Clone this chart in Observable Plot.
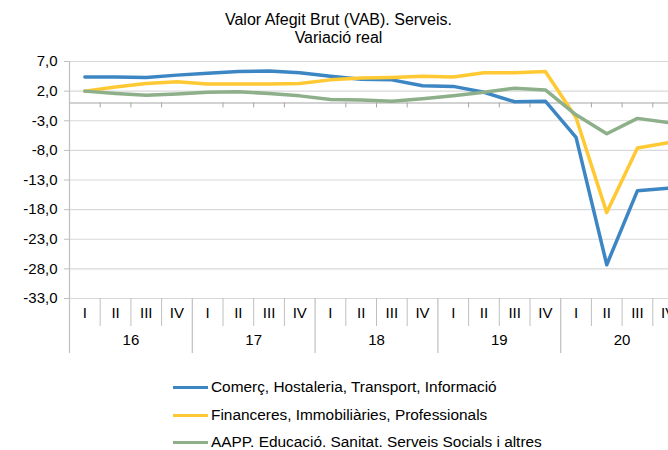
<!DOCTYPE html>
<html><head><meta charset="utf-8">
<script src="https://cdn.jsdelivr.net/npm/d3@7"></script>
<script src="https://cdn.jsdelivr.net/npm/@observablehq/plot@0.6"></script>
<style>
body{margin:0;background:#fff;font-family:"Liberation Sans",Arial,sans-serif;}
#wrap{position:relative;width:668px;height:450px;overflow:hidden;background:#fff}
#title{position:absolute;left:0;top:11px;width:677px;text-align:center;font-size:16px;line-height:18px;color:#000}
#chart{position:absolute;left:0;top:50px}
.leg{position:absolute;left:173px;height:20px;display:flex;align-items:center;font-size:15.4px;color:#000;white-space:nowrap}
.sw{display:inline-block;width:35px;height:3px;margin-right:3px}
</style></head>
<body><div id="wrap">
<div id="title">Valor Afegit Brut (VAB). Serveis.<br>Variació real</div>
<div id="chart"></div>
<div id="legend"></div>
</div>
<script>
const quarters = ["I","II","III","IV","I","II","III","IV","I","II","III","IV","I","II","III","IV","I","II","III","IV"];
const years = ["16","17","18","19","20"];
const seriesNames = [
  "Comerç, Hostaleria, Transport, Informació",
  "Financeres, Immobiliàries, Professionals",
  "AAPP. Educació. Sanitat. Serveis Socials i altres"
];
const comerc     = [4.4,4.4,4.3,4.7,5.0,5.3,5.4,5.1,4.5,4.0,3.9,2.9,2.8,1.8,0.2,0.3,-5.8,-27.3,-14.8,-14.4];
const financeres = [2.0,2.7,3.3,3.6,3.2,3.2,3.2,3.3,3.9,4.2,4.3,4.5,4.4,5.1,5.1,5.3,-2.5,-18.5,-7.6,-6.7];
const aapp       = [2.0,1.6,1.3,1.5,1.8,1.9,1.6,1.2,0.6,0.5,0.3,0.7,1.2,1.8,2.5,2.2,-2.0,-5.2,-2.6,-3.3];
const yTicks = [-33,-28,-23,-18,-13,-8,-3,2,7];
const colors = ["#3D86C4","#FFC934","#8DAF8A"];

const seriesValues = [comerc, financeres, aapp];
const data = [];
seriesValues.forEach((vals, s) => vals.forEach((v, i) => data.push({i, v, name: seriesNames[s]})));
const idx = quarters.map((q, i) => i);
const bounds = d3.range(quarters.length + 1).map(i => i - 0.5);
const qBounds = bounds.filter((b, k) => k % 4 !== 0);
const yBounds = bounds.filter((b, k) => k % 4 === 0);
const yearCenters = years.map((y, k) => k * 4 + 1.5);
const fmt = d => d.toFixed(1).replace(".", ",");

const chart = Plot.plot({
  width: 668, height: 310,
  marginTop: 11, marginBottom: 62, marginLeft: 69, marginRight: 0,
  style: {fontFamily: "'Liberation Sans', Arial, sans-serif", fontSize: "15px", color: "#000", background: "transparent"},
  x: {type: "linear", domain: [-0.5, 19.5], range: [69, 683], axis: null},
  y: {domain: [-33, 7], axis: null},
  color: {domain: seriesNames, range: colors},
  marks: [
    Plot.ruleY(yTicks, {stroke: "#D9D9D9", strokeWidth: 1.2}),
    Plot.ruleY([0], {stroke: "#A6A6A6", strokeWidth: 1.2}),
    Plot.ruleX(qBounds, {x: d => d, y1: () => 0, y2: () => 0, insetBottom: -5, stroke: "#A6A6A6"}),
    Plot.ruleX([-0.5], {x: d => d, y1: () => 7, y2: () => -33, stroke: "#BFBFBF", strokeWidth: 1.2}),
    Plot.ruleX(qBounds, {x: d => d, y1: () => -33, y2: () => -33, insetBottom: -28, stroke: "#BFBFBF"}),
    Plot.ruleX(yBounds, {x: d => d, y1: () => -33, y2: () => -33, insetBottom: -55, stroke: "#BFBFBF", strokeWidth: 1.2}),
    Plot.axisY(yTicks, {tickFormat: fmt, tickSize: 5, tickPadding: 7, stroke: "#BFBFBF", label: null, fontSize: 15}),
    Plot.text(idx, {x: d => d, text: d => quarters[d], frameAnchor: "bottom", dy: 19, fontSize: 15}),
    Plot.text(yearCenters, {x: d => d, text: (d, k) => years[k], frameAnchor: "bottom", dy: 46, fontSize: 15}),
    Plot.line(data, {x: "i", y: "v", z: "name", stroke: "name", strokeWidth: 3.5})
  ]
});
document.getElementById("chart").appendChild(chart);

const legend = document.getElementById("legend");
const legY = [377, 405, 432];
seriesNames.forEach((n, k) => {
  const row = document.createElement("div");
  row.className = "leg";
  row.style.top = legY[k] + "px";
  const sw = document.createElement("span");
  sw.className = "sw";
  sw.style.background = colors[k];
  row.appendChild(sw);
  row.appendChild(document.createTextNode(n));
  legend.appendChild(row);
});
</script>
</body></html>
